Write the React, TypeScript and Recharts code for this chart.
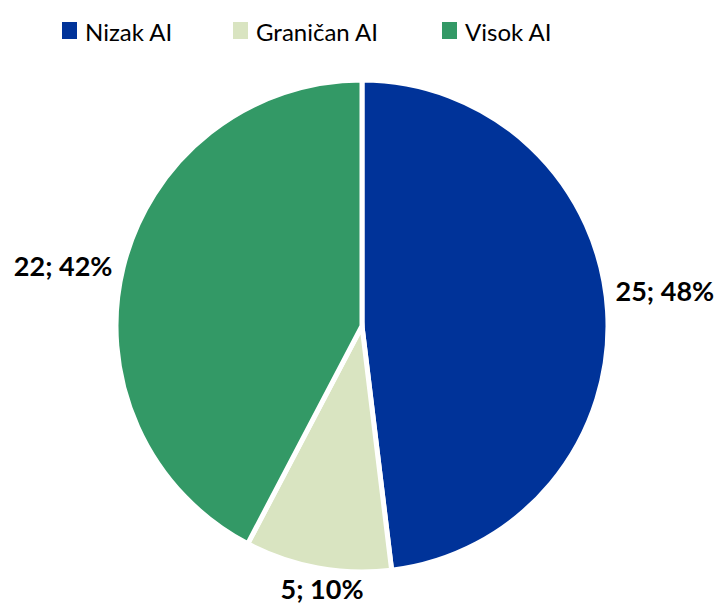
import React from "react";
import { PieChart, Pie, Cell } from "recharts";

const categories = ["Nizak AI", "Graničan AI", "Visok AI"];
const counts = [25, 5, 22];
const percents = [48, 10, 42];
const colors = ["#003399", "#D9E4C1", "#339966"];

const data = categories.map((name, i) => ({
  name,
  value: counts[i],
  pct: percents[i],
}));

const RAD = Math.PI / 180;

const renderLabel = (props: any) => {
  const { cx, cy, midAngle, outerRadius, index } = props;
  const cos = Math.cos(-midAngle * RAD);
  const sin = Math.sin(-midAngle * RAD);
  let r = outerRadius + 8;
  let anchor: "start" | "end" | "middle" = cos >= 0 ? "start" : "end";
  let dy = 0;
  let dx = 0;
  if (Math.abs(sin) > 0.9) {
    anchor = "middle";
    r = outerRadius + 20;
    dy = 1;
    dx = 8;
  }
  if (index === 0) dy = -20;
  if (index === 2) {
    dy = 1;
    r = outerRadius + 11;
  }
  const x = cx + r * cos + dx;
  const y = cy + r * sin + dy;
  return (
    <text
      x={x}
      y={y}
      textAnchor={anchor}
      dominantBaseline="central"
      fill="#000"
      fontFamily="Lato, 'Open Sans', sans-serif"
      fontWeight={700}
      fontSize={27}
    >
      {`${counts[index]}; ${percents[index]}%`}
    </text>
  );
};

const legendX = [62, 233, 442];

export default function App() {
  return (
    <div style={{ position: "absolute", left: 0, top: 0, width: 721, height: 606, background: "#fff" }}>
      <svg width={721} height={60} style={{ position: "absolute", left: 0, top: 0 }}>
        {categories.map((c, i) => (
          <g key={c}>
            <rect x={legendX[i]} y={22} width={15} height={17} fill={colors[i]} />
            <text
              x={legendX[i] + 23}
              y={31}
              dominantBaseline="central"
              fontFamily="Lato, 'Open Sans', sans-serif"
              fontSize={24}
              fill="#000"
            >
              {c}
            </text>
          </g>
        ))}
      </svg>
      <PieChart width={721} height={606}>
        <Pie
          data={data}
          dataKey="value"
          nameKey="name"
          cx={357}
          cy={321}
          outerRadius={246}
          startAngle={90}
          endAngle={-270}
          stroke="#fff"
          strokeWidth={5}
          label={renderLabel}
          labelLine={false}
          isAnimationActive={false}
        >
          {data.map((d, i) => (
            <Cell key={d.name} fill={colors[i]} />
          ))}
        </Pie>
      </PieChart>
    </div>
  );
}
